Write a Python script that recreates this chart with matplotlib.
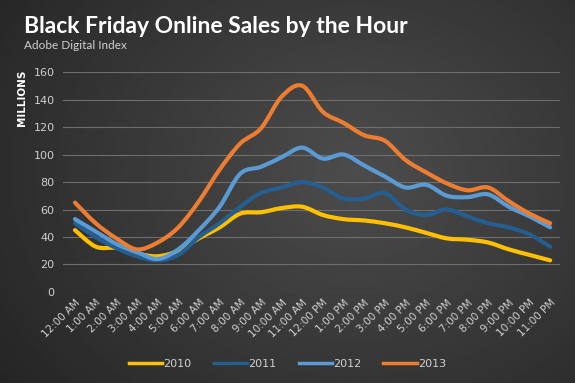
import numpy as np
import matplotlib
matplotlib.use('Agg')
import matplotlib.pyplot as plt
from matplotlib.path import Path
from matplotlib.patches import PathPatch

# hourly labels
hours = ['12:00 AM', '1:00 AM', '2:00 AM', '3:00 AM', '4:00 AM', '5:00 AM',
         '6:00 AM', '7:00 AM', '8:00 AM', '9:00 AM', '10:00 AM', '11:00 AM',
         '12:00 PM', '1:00 PM', '2:00 PM', '3:00 PM', '4:00 PM', '5:00 PM',
         '6:00 PM', '7:00 PM', '8:00 PM', '9:00 PM', '10:00 PM', '11:00 PM']

# sales in millions
sales_2010 = [45, 33, 32, 28, 26, 30, 39, 47, 57, 58, 61, 62,
              56, 53, 52, 50, 47, 43, 39, 38, 36, 31, 27, 23]
sales_2011 = [50, 40, 32, 26, 23, 27, 40, 50, 62, 72, 76, 80,
              76, 68, 68, 72, 60, 56, 60, 55, 50, 47, 42, 33]
sales_2012 = [53, 44, 35, 29, 24, 31, 45, 62, 86, 91, 98, 105,
              97, 100, 92, 84, 76, 78, 70, 69, 71, 62, 55, 47]
sales_2013 = [65, 50, 39, 31, 36, 47, 66, 89, 108, 119, 142, 150,
              131, 123, 114, 110, 96, 87, 79, 74, 76, 66, 57, 50]

years = ['2010', '2011', '2012', '2013']
series = [sales_2010, sales_2011, sales_2012, sales_2013]
colors = ['#FFC000', '#255E91', '#5B9BD5', '#ED7D31']


def smooth_path(x, y):
    # catmull-rom through the points, as cubic bezier segments
    x = np.asarray(x, float)
    y = np.asarray(y, float)
    pts = np.column_stack([x, y])
    verts = [pts[0]]
    codes = [Path.MOVETO]
    n = len(pts)
    for i in range(n - 1):
        p0 = pts[max(i - 1, 0)]
        p1 = pts[i]
        p2 = pts[i + 1]
        p3 = pts[min(i + 2, n - 1)]
        c1 = p1 + (p2 - p0) / 6.0
        c2 = p2 - (p3 - p1) / 6.0
        verts += [c1, c2, p2]
        codes += [Path.CURVE4] * 3
    return Path(verts, codes)


fig = plt.figure(figsize=(5.75, 3.83), dpi=100)

# dark gradient background
bg = fig.add_axes([0, 0, 1, 1], zorder=-10)
gx, gy = np.meshgrid(np.linspace(0, 1, 300), np.linspace(0, 1, 200))
r = np.sqrt(((gx - 0.62) / 0.75) ** 2 + ((gy - 0.55) / 0.9) ** 2)
shade = 0.30 - 0.15 * np.clip(r, 0, 1.2)
bg.imshow(shade, cmap='gray', vmin=0, vmax=1, aspect='auto',
          extent=[0, 1, 0, 1], origin='lower')
bg.axis('off')

ax = fig.add_axes([0.1096, 0.2376, 0.8644, 0.5744])
ax.set_facecolor('none')

x = np.arange(len(hours))
for yr, vals, c in zip(years, series, colors):
    ax.add_patch(PathPatch(smooth_path(x, vals), fill=False, edgecolor=c,
                           lw=3.0, capstyle='round', joinstyle='round'))
    ax.plot([], [], color=c, lw=2.5, label=yr)

ax.set_xlim(-0.58, 23.48)
ax.set_ylim(0, 160)
ax.set_yticks(range(0, 161, 20))
ax.set_xticks(x)
ax.set_xticklabels(hours, rotation=45, ha='right', rotation_mode='anchor')
ax.tick_params(colors='#d0d0d0', labelsize=8, length=0, pad=6)
ax.tick_params(axis='x', labelsize=7.5, pad=4)
ax.grid(axis='y', color='#6e6e6e', lw=0.8)
ax.set_axisbelow(True)
for s in ax.spines.values():
    s.set_visible(False)

fig.text(0.038, 0.745, 'MILLIONS', rotation=90, color='white', fontsize=7.5,
         fontweight='bold', ha='center', va='center')

fig.text(0.042, 0.915, 'Black Friday Online Sales by the Hour', color='white',
         fontsize=16.5, fontweight='bold', family='Lato', ha='left',
         va='baseline')
fig.text(0.042, 0.872, 'Adobe Digital Index', color='#d0d0d0', fontsize=8.5,
         family='Lato', ha='left', va='baseline')

leg = fig.legend(loc='center', bbox_to_anchor=(0.5, 0.05), ncol=4,
                 frameon=False, fontsize=8, handlelength=3.0,
                 columnspacing=2.0, handletextpad=0.1)
for t in leg.get_texts():
    t.set_color('#d0d0d0')

plt.savefig('out.png', dpi=100)
